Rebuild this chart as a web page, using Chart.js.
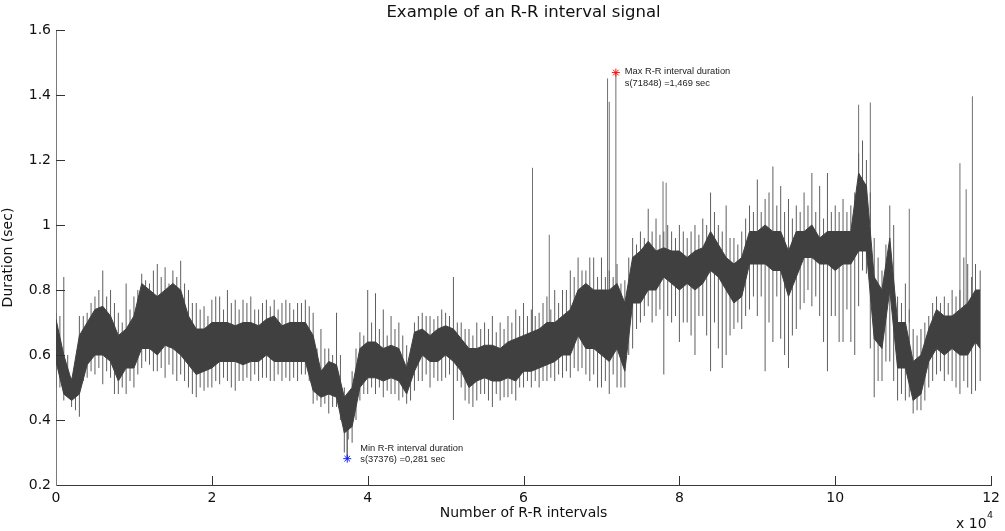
<!DOCTYPE html>
<html>
<head>
<meta charset="utf-8">
<script src="https://cdn.jsdelivr.net/npm/chart.js@4.4.1/dist/chart.umd.min.js"></script>
<style>
html,body{margin:0;padding:0;background:#ffffff;}
#c{display:block;}
</style>
</head>
<body>
<canvas id="c" width="1005" height="531"></canvas>
<script>
// R-R interval index (thousands of intervals) for each read-off sample
const intervalsK = [0,1,2,3,4,5,6,7,8,9,10,11,12,13,14,15,16,17,18,19,
  20,21,22,23,24,25,26,27,28,29,30,31,32,33,34,35,36,37,38,39,
  40,41,42,43,44,45,46,47,48,49,50,51,52,53,54,55,56,57,58,59,
  60,61,62,63,64,65,66,67,68,69,70,71,72,73,74,75,76,77,78,79,
  80,81,82,83,84,85,86,87,88,89,90,91,92,93,94,95,96,97,98,99,
  100,101,102,103,104,105,106,107,108,109,110,111,112,113,114,115,116,117,118,118.6];

// dense band of the signal (sec)
const coreLow = [0.58,0.48,0.46,0.48,0.57,0.60,0.60,0.58,0.52,0.56,
  0.56,0.62,0.62,0.60,0.63,0.62,0.60,0.57,0.54,0.55,
  0.56,0.58,0.58,0.58,0.57,0.58,0.58,0.60,0.58,0.58,
  0.58,0.58,0.58,0.49,0.47,0.48,0.47,0.36,0.38,0.50,
  0.53,0.53,0.52,0.53,0.52,0.48,0.55,0.60,0.58,0.58,
  0.60,0.58,0.55,0.50,0.52,0.53,0.52,0.52,0.53,0.52,
  0.55,0.55,0.56,0.57,0.58,0.60,0.60,0.66,0.62,0.62,
  0.60,0.58,0.62,0.55,0.76,0.76,0.80,0.80,0.84,0.82,
  0.80,0.82,0.80,0.82,0.86,0.84,0.80,0.76,0.78,0.88,
  0.88,0.88,0.86,0.86,0.78,0.84,0.90,0.90,0.88,0.88,
  0.86,0.88,0.88,0.92,0.92,0.65,0.62,0.80,0.56,0.56,
  0.46,0.48,0.58,0.62,0.60,0.62,0.60,0.60,0.64,0.62];
const coreHigh = [0.71,0.60,0.52,0.66,0.70,0.74,0.75,0.72,0.66,0.68,
  0.72,0.82,0.80,0.78,0.80,0.82,0.80,0.72,0.68,0.68,
  0.70,0.70,0.70,0.69,0.70,0.70,0.69,0.71,0.72,0.69,
  0.70,0.70,0.70,0.66,0.55,0.58,0.57,0.47,0.50,0.62,
  0.64,0.64,0.62,0.63,0.62,0.56,0.67,0.68,0.66,0.68,
  0.69,0.68,0.65,0.62,0.62,0.63,0.63,0.62,0.64,0.65,
  0.66,0.67,0.68,0.70,0.70,0.72,0.74,0.80,0.82,0.80,
  0.80,0.80,0.82,0.76,0.90,0.92,0.95,0.92,0.93,0.92,
  0.92,0.90,0.92,0.93,0.98,0.94,0.90,0.88,0.90,0.98,
  0.98,1.00,0.98,0.98,0.92,0.98,0.98,1.00,0.96,0.98,
  0.98,0.98,0.98,1.16,1.12,0.84,0.80,0.96,0.70,0.70,
  0.58,0.60,0.68,0.74,0.72,0.72,0.74,0.76,0.80,0.80];

// extent of the ordinary beat-to-beat spikes at each sample (sec)
const spikeDown = [0.50,0.46,0.44,0.41,0.53,0.54,0.51,0.53,0.48,0.48,
  0.50,0.56,0.57,0.55,0.53,0.54,0.54,0.50,0.47,0.49,
  0.50,0.51,0.52,0.49,0.52,0.52,0.52,0.53,0.52,0.52,
  0.52,0.52,0.54,0.45,0.44,0.42,0.44,0.30,0.33,0.46,
  0.48,0.48,0.47,0.48,0.46,0.45,0.49,0.52,0.50,0.52,
  0.53,0.40,0.50,0.45,0.46,0.48,0.44,0.46,0.47,0.46,
  0.50,0.50,0.50,0.52,0.52,0.53,0.53,0.55,0.54,0.54,
  0.50,0.48,0.50,0.50,0.62,0.70,0.75,0.72,0.54,0.70,
  0.64,0.70,0.60,0.72,0.55,0.62,0.60,0.68,0.68,0.74,
  0.72,0.55,0.64,0.65,0.56,0.68,0.76,0.75,0.72,0.55,
  0.72,0.64,0.64,0.75,0.85,0.47,0.52,0.58,0.46,0.46,
  0.42,0.43,0.50,0.54,0.52,0.52,0.48,0.50,0.49,0.52];
const spikeUp = [0.73,0.84,0.53,0.72,0.73,0.78,0.86,0.80,0.73,0.82,
  0.78,0.85,0.82,0.88,0.87,0.86,0.89,0.80,0.76,0.75,
  0.77,0.78,0.80,0.77,0.77,0.78,0.74,0.77,0.77,0.76,
  0.76,0.76,0.77,0.73,0.68,0.62,0.73,0.50,0.55,0.67,
  0.80,0.79,0.74,0.72,0.70,0.63,0.70,0.73,0.72,0.72,
  0.73,0.84,0.70,0.68,0.70,0.70,0.72,0.70,0.72,0.74,
  0.76,0.74,0.73,0.78,0.80,0.80,0.86,0.90,0.86,0.90,
  0.90,0.86,0.88,0.83,0.96,0.98,1.05,1.02,0.98,0.98,
  1.00,0.96,1.00,1.02,1.10,1.00,1.06,0.96,0.98,1.06,
  1.14,1.08,1.18,1.12,1.08,1.06,1.10,1.16,1.12,1.16,
  1.06,1.08,1.06,1.22,1.20,0.96,0.86,1.06,0.78,0.82,
  0.68,0.68,0.72,0.78,0.78,0.80,0.80,0.88,0.88,0.86];

// spikes read half-way between samples (at k + 0.5 thousand intervals)
const midIntervalsK = [0.5,1.5,2.5,3.5,4.5,5.5,6.5,7.5,8.5,9.5,
  10.5,11.5,12.5,13.5,14.5,15.5,16.5,17.5,18.5,19.5,
  20.5,21.5,22.5,23.5,24.5,25.5,26.5,27.5,28.5,29.5,
  30.5,31.5,32.5,33.5,34.5,35.5,36.5,37.5,38.5,39.5,
  40.5,41.5,42.5,43.5,44.5,45.5,46.5,47.5,48.5,49.5,
  50.5,51.5,52.5,53.5,54.5,55.5,56.5,57.5,58.5,59.5,
  60.5,61.5,62.5,63.5,64.5,65.5,66.5,67.5,68.5,69.5,
  70.5,71.5,72.5,73.5,74.5,75.5,76.5,77.5,78.5,79.5,
  80.5,81.5,82.5,83.5,84.5,85.5,86.5,87.5,88.5,89.5,
  90.5,91.5,92.5,93.5,94.5,95.5,96.5,97.5,98.5,99.5,
  100.5,101.5,102.5,103.5,104.5,105.5,106.5,107.5,108.5,109.5,
  110.5,111.5,112.5,113.5,114.5,115.5,116.5,117.5];
const midSpikeUp = [0.72,0.60,0.52,0.72,0.76,0.80,0.78,0.76,0.70,0.74,
  0.80,0.83,0.86,0.84,0.82,0.84,0.82,0.76,0.74,0.72,
  0.78,0.74,0.76,0.74,0.76,0.74,0.76,0.75,0.74,0.77,
  0.74,0.76,0.75,0.62,0.62,0.60,0.60,0.48,0.62,0.66,
  0.70,0.68,0.66,0.68,0.66,0.60,0.72,0.72,0.71,0.74,
  0.72,0.70,0.68,0.66,0.68,0.68,0.67,0.68,0.70,0.72,
  0.72,0.72,0.76,0.74,0.76,0.80,0.84,0.86,0.90,0.84,
  0.84,0.84,0.82,0.90,0.94,0.96,0.98,0.97,1.00,0.96,
  0.98,0.98,0.97,1.00,1.04,0.98,0.96,0.94,1.02,1.04,
  1.04,1.10,1.06,1.04,1.02,1.04,1.06,1.04,1.02,1.04,
  1.04,1.04,1.10,1.26,1.10,0.90,0.94,1.00,0.76,0.74,
  0.66,0.70,0.76,0.76,0.76,0.78,0.90,0.84];
const midSpikeDown = [0.50,0.47,0.43,0.52,0.55,0.56,0.55,0.48,0.50,0.52,
  0.54,0.58,0.55,0.56,0.57,0.52,0.52,0.48,0.50,0.50,
  0.52,0.53,0.50,0.52,0.53,0.54,0.53,0.52,0.54,0.53,
  0.53,0.54,0.52,0.46,0.45,0.44,0.40,0.34,0.40,0.48,
  0.50,0.50,0.49,0.48,0.47,0.46,0.52,0.54,0.53,0.52,
  0.54,0.52,0.46,0.44,0.48,0.46,0.48,0.47,0.48,0.50,
  0.52,0.52,0.52,0.53,0.54,0.55,0.56,0.56,0.52,0.50,
  0.52,0.54,0.50,0.60,0.68,0.72,0.70,0.74,0.72,0.72,
  0.70,0.66,0.72,0.66,0.70,0.56,0.66,0.70,0.72,0.78,
  0.78,0.70,0.78,0.60,0.66,0.74,0.80,0.78,0.64,0.72,
  0.64,0.74,0.60,0.86,0.62,0.52,0.58,0.52,0.48,0.47,
  0.43,0.46,0.52,0.55,0.54,0.50,0.52,0.48];

// isolated tall spikes: interval index, foot and tip (sec)
const tallX      = [37376, 61150, 63300, 70780, 71000, 71848, 77900, 78300, 103000, 104500, 109500, 116000, 116800, 117600];
const tallBottom = [0.40,  0.62,  0.65,  0.70,  0.65,  0.70,  0.88,  0.88,  1.00,   1.00,   0.70,   0.70,   0.70,   0.70];
const tallTop    = [0.281, 1.176, 0.97,  1.451, 1.379, 1.469, 1.134, 1.13,  1.37,   1.377,  1.05,   1.19,   1.11,   1.396];

// extreme points
const minPoint = {x: 37376, y: 0.281};
const maxPoint = {x: 71848, y: 1.469};
const minText = ["Min R-R interval duration", "s(37376) =0,281 sec"];
const maxText = ["Max R-R interval duration", "s(71848) =1,469 sec"];

const xTickValues = [0, 2, 4, 6, 8, 10, 12];
const yTickValues = [0.2, 0.4, 0.6, 0.8, 1, 1.2, 1.4, 1.6];

const titleText = "Example of an R-R interval signal";
const xTitle = "Number of R-R intervals";
const yTitle = "Duration (sec)";

// ---- build library data ----
const highPts = intervalsK.map((k, i) => ({x: k * 1000, y: coreHigh[i]}));
const lowPts = intervalsK.map((k, i) => ({x: k * 1000, y: coreLow[i]}));
const spikePts = [];
intervalsK.forEach((k, i) => {
  spikePts.push({x: k * 1000, y: spikeDown[i]});
  spikePts.push({x: k * 1000, y: spikeUp[i]});
  spikePts.push({x: k * 1000, y: null});
});
midIntervalsK.forEach((k, i) => {
  spikePts.push({x: k * 1000, y: midSpikeDown[i]});
  spikePts.push({x: k * 1000, y: midSpikeUp[i]});
  spikePts.push({x: k * 1000, y: null});
});
const tallPts = [];
tallX.forEach((x, i) => {
  tallPts.push({x: x, y: tallBottom[i]});
  tallPts.push({x: x, y: tallTop[i]});
  tallPts.push({x: x, y: null});
});

const BAND = '#404040';
const SANS = "'DejaVu Sans', sans-serif";
const SMALL = "'Liberation Sans', Arial, sans-serif";

const insideTicks = {
  id: 'insideTicks',
  afterDraw(chart) {
    const ctx = chart.ctx;
    const xs = chart.scales.x, ys = chart.scales.y;
    const a = chart.chartArea;
    ctx.save();
    ctx.strokeStyle = '#333';
    ctx.lineWidth = 1;
    ctx.beginPath();
    xTickValues.forEach(v => {
      if (v === 0) return;
      const px = Math.round(xs.getPixelForValue(v * 10000)) + 0.5;
      ctx.moveTo(px, a.bottom);
      ctx.lineTo(px, a.bottom - 9);
    });
    yTickValues.forEach(v => {
      if (v === 0.2) return;
      const py = Math.round(ys.getPixelForValue(v)) + 0.5;
      ctx.moveTo(a.left, py);
      ctx.lineTo(a.left + 9, py);
    });
    ctx.stroke();

    // exponent label of the x axis
    ctx.fillStyle = '#111';
    ctx.textBaseline = 'alphabetic';
    ctx.textAlign = 'left';
    ctx.font = "14px " + SANS;
    ctx.fillText('x 10', 956, 528);
    ctx.font = "9.5px " + SANS;
    ctx.fillText('4', 987, 518);

    // annotations
    ctx.font = "9.3px " + SMALL;
    ctx.fillStyle = '#222';
    ctx.textBaseline = 'middle';
    const mnx = xs.getPixelForValue(minPoint.x), mny = ys.getPixelForValue(minPoint.y);
    ctx.fillText(minText[0], mnx + 13, mny - 10);
    ctx.fillText(minText[1], mnx + 13, mny + 1);
    const mxx = xs.getPixelForValue(maxPoint.x), mxy = ys.getPixelForValue(maxPoint.y);
    ctx.fillText(maxText[0], mxx + 9, mxy - 1.5);
    ctx.fillText(maxText[1], mxx + 9, mxy + 11);
    ctx.restore();
  }
};

new Chart(document.getElementById('c'), {
  type: 'line',
  data: {
    datasets: [
      {data: highPts, borderColor: BAND, borderWidth: 1, backgroundColor: BAND, fill: false, order: 2, tension: 0},
      {data: lowPts, borderColor: BAND, borderWidth: 1, backgroundColor: BAND, fill: '-1', order: 2, tension: 0},
      {data: spikePts, borderColor: '#5e5e5e', borderWidth: 1, fill: false, order: 3, spanGaps: false},
      {data: tallPts, borderColor: '#707070', borderWidth: 1, fill: false, order: 3, spanGaps: false},
      {data: [minPoint], showLine: false, pointStyle: 'star', pointRadius: 4, pointBorderColor: '#1020ff', pointBorderWidth: 1, order: 0},
      {data: [maxPoint], showLine: false, pointStyle: 'star', pointRadius: 4, pointBorderColor: '#ff1010', pointBorderWidth: 1, order: 0}
    ]
  },
  options: {
    responsive: false,
    animation: false,
    devicePixelRatio: 1,
    layout: {padding: {left: 0, right: 11, top: 0, bottom: 0}},
    elements: {point: {radius: 0, hoverRadius: 0}, line: {tension: 0}},
    plugins: {
      legend: {display: false},
      tooltip: {enabled: false},
      title: {
        display: true, text: titleText, fullSize: false,
        color: '#111', font: {family: SANS, size: 16.5, weight: 'normal'},
        padding: {top: 2.5, bottom: 7.7}
      }
    },
    scales: {
      x: {
        type: 'linear', min: 0, max: 120000,
        afterFit(s) { s.height = 46; },
        afterBuildTicks(s) { s.ticks = xTickValues.map(v => ({value: v * 10000})); },
        ticks: {
          color: '#111', font: {family: SANS, size: 14}, padding: 5, maxRotation: 0,
          callback: v => String(v / 10000)
        },
        grid: {display: true, drawOnChartArea: false, drawTicks: false},
        border: {display: true, color: '#3a3a3a', width: 1},
        title: {display: true, text: xTitle, color: '#111', font: {family: SANS, size: 14}, padding: {top: 0, bottom: 9.5}}
      },
      y: {
        min: 0.2, max: 1.6,
        afterFit(s) { s.width = 56; },
        afterBuildTicks(s) { s.ticks = yTickValues.map(v => ({value: v})); },
        ticks: {
          color: '#111', font: {family: SANS, size: 14}, padding: 5,
          callback: v => String(Number(v.toFixed(1)))
        },
        grid: {display: true, drawOnChartArea: false, drawTicks: false},
        border: {display: true, color: '#7a7a7a', width: 1},
        title: {display: true, text: yTitle, color: '#111', font: {family: SANS, size: 14}, padding: {top: 0, bottom: 0}}
      }
    }
  },
  plugins: [insideTicks]
});
</script>
</body>
</html>
